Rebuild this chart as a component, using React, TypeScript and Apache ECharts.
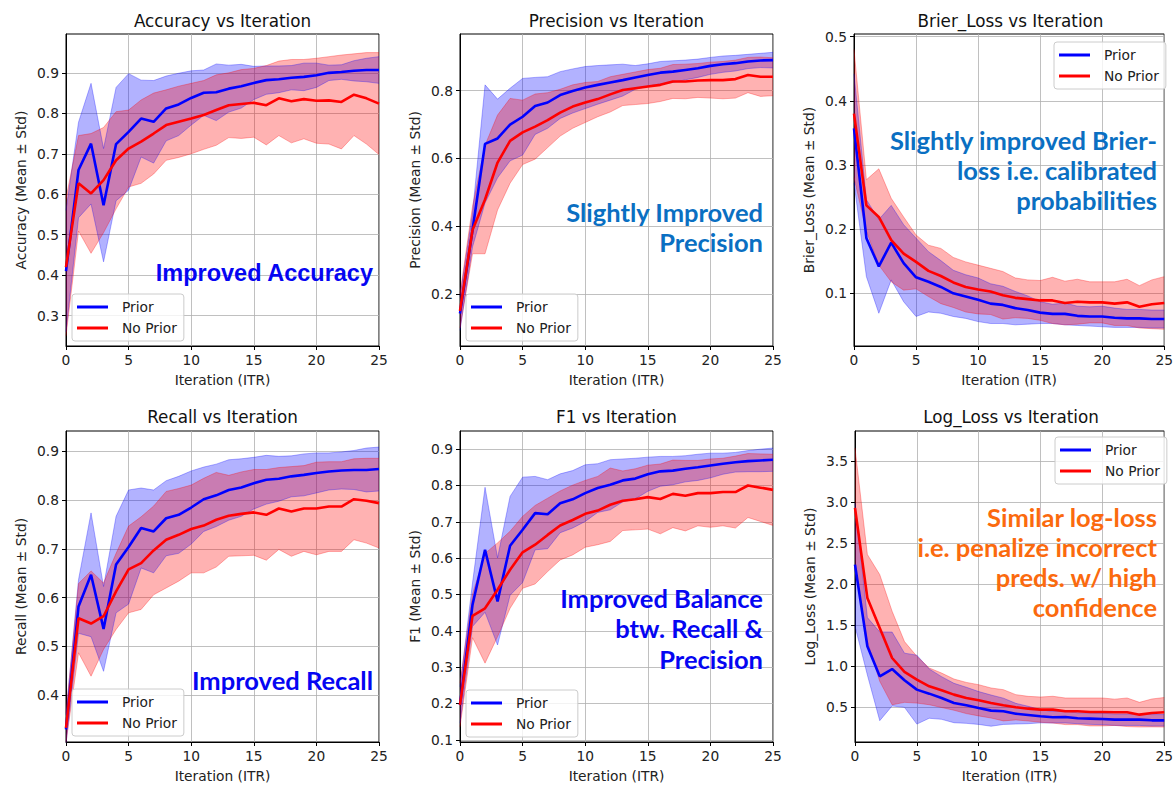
import React, { useEffect, useRef } from "react";
import * as echarts from "echarts";

// ---------- data ----------
const iterations = ["0","1","2","3","4","5","6","7","8","9","10","11","12","13","14","15","16","17","18","19","20","21","22","23","24","25"];

const accPriorMean = [0.41,0.66,0.725,0.573,0.724,0.754,0.787,0.779,0.812,0.822,0.838,0.851,0.852,0.861,0.867,0.875,0.882,0.884,0.888,0.89,0.894,0.9,0.902,0.905,0.907,0.907];
const accPriorStd = [0.15,0.118,0.149,0.14,0.14,0.144,0.095,0.102,0.08,0.077,0.067,0.056,0.07,0.058,0.054,0.041,0.035,0.033,0.03,0.034,0.03,0.019,0.018,0.025,0.029,0.033];
const accNoMean = [0.42,0.627,0.602,0.635,0.684,0.713,0.73,0.75,0.771,0.779,0.787,0.796,0.808,0.82,0.823,0.826,0.82,0.837,0.83,0.835,0.831,0.832,0.828,0.846,0.837,0.824];
const accNoStd = [0.17,0.118,0.148,0.13,0.12,0.095,0.103,0.1,0.087,0.088,0.087,0.085,0.087,0.08,0.085,0.085,0.098,0.092,0.103,0.098,0.105,0.108,0.116,0.101,0.113,0.126];

const precPriorMean = [0.143,0.389,0.643,0.659,0.7,0.723,0.755,0.765,0.787,0.799,0.809,0.817,0.824,0.831,0.839,0.846,0.853,0.856,0.861,0.866,0.873,0.878,0.881,0.886,0.889,0.89];
const precPriorStd = [0.05,0.05,0.174,0.116,0.107,0.113,0.084,0.076,0.069,0.065,0.062,0.057,0.052,0.047,0.035,0.033,0.033,0.032,0.029,0.027,0.025,0.024,0.023,0.021,0.021,0.023];
const precNoMean = [0.15,0.389,0.479,0.588,0.652,0.677,0.694,0.713,0.735,0.753,0.765,0.775,0.789,0.802,0.807,0.812,0.817,0.827,0.827,0.83,0.831,0.831,0.834,0.846,0.841,0.841];
const precNoStd = [0.05,0.07,0.16,0.14,0.125,0.095,0.096,0.081,0.069,0.064,0.059,0.052,0.052,0.046,0.048,0.05,0.049,0.05,0.051,0.05,0.053,0.055,0.056,0.052,0.058,0.056];

const brierPriorMean = [0.357,0.186,0.142,0.179,0.147,0.125,0.118,0.11,0.1,0.095,0.09,0.084,0.082,0.077,0.074,0.07,0.068,0.068,0.065,0.064,0.064,0.062,0.061,0.061,0.06,0.06];
const brierPriorStd = [0.085,0.06,0.073,0.058,0.06,0.061,0.047,0.041,0.036,0.034,0.034,0.031,0.029,0.026,0.022,0.017,0.015,0.017,0.015,0.015,0.016,0.015,0.014,0.014,0.014,0.014];
const brierNoMean = [0.38,0.237,0.219,0.183,0.162,0.149,0.135,0.127,0.117,0.11,0.106,0.103,0.097,0.093,0.091,0.089,0.089,0.085,0.087,0.086,0.086,0.084,0.086,0.079,0.083,0.085];
const brierNoStd = [0.1,0.04,0.075,0.065,0.057,0.042,0.04,0.043,0.039,0.039,0.038,0.036,0.037,0.031,0.03,0.031,0.036,0.034,0.035,0.032,0.032,0.034,0.036,0.033,0.038,0.041];

const recPriorMean = [0.33,0.582,0.647,0.536,0.668,0.704,0.743,0.736,0.763,0.77,0.785,0.802,0.81,0.821,0.826,0.835,0.842,0.844,0.849,0.852,0.856,0.859,0.861,0.862,0.862,0.864];
const recPriorStd = [0.03,0.055,0.127,0.087,0.099,0.117,0.082,0.085,0.077,0.079,0.075,0.066,0.064,0.062,0.059,0.053,0.05,0.046,0.042,0.043,0.041,0.038,0.038,0.04,0.045,0.045];
const recNoMean = [0.333,0.558,0.547,0.562,0.613,0.658,0.671,0.697,0.719,0.729,0.741,0.748,0.76,0.768,0.772,0.775,0.77,0.783,0.777,0.783,0.783,0.787,0.787,0.802,0.799,0.794];
const recNoStd = [0.03,0.071,0.108,0.068,0.078,0.089,0.095,0.091,0.099,0.095,0.09,0.097,0.097,0.083,0.086,0.088,0.093,0.084,0.092,0.088,0.095,0.092,0.092,0.083,0.087,0.092];

const f1PriorMean = [0.196,0.472,0.623,0.481,0.634,0.678,0.724,0.721,0.751,0.762,0.779,0.793,0.802,0.814,0.819,0.831,0.839,0.841,0.846,0.85,0.855,0.86,0.864,0.867,0.869,0.871];
const f1PriorStd = [0.05,0.06,0.172,0.12,0.136,0.145,0.101,0.095,0.081,0.079,0.078,0.067,0.069,0.059,0.056,0.047,0.041,0.039,0.036,0.036,0.034,0.029,0.027,0.029,0.031,0.032];
const f1NoMean = [0.196,0.441,0.462,0.513,0.568,0.616,0.637,0.664,0.69,0.705,0.722,0.731,0.747,0.758,0.762,0.768,0.763,0.777,0.772,0.779,0.779,0.782,0.782,0.8,0.794,0.788];
const f1NoStd = [0.06,0.06,0.151,0.129,0.106,0.099,0.108,0.101,0.095,0.096,0.092,0.094,0.101,0.082,0.084,0.088,0.096,0.093,0.097,0.09,0.094,0.093,0.099,0.088,0.093,0.098];

const logPriorMean = [2.237,1.243,0.877,0.966,0.829,0.715,0.666,0.613,0.552,0.524,0.491,0.459,0.451,0.422,0.406,0.39,0.378,0.382,0.366,0.362,0.357,0.349,0.349,0.349,0.341,0.341];
const logPriorStd = [0.75,0.35,0.54,0.45,0.33,0.42,0.3,0.26,0.24,0.22,0.2,0.19,0.16,0.126,0.106,0.08,0.07,0.073,0.066,0.07,0.07,0.07,0.07,0.07,0.07,0.07];
const logNoMean = [2.928,1.831,1.466,1.1,0.93,0.836,0.755,0.707,0.654,0.613,0.585,0.552,0.524,0.5,0.483,0.471,0.471,0.451,0.451,0.443,0.443,0.439,0.439,0.41,0.431,0.439];
const logNoStd = [0.73,0.53,0.65,0.57,0.37,0.285,0.224,0.21,0.19,0.19,0.19,0.183,0.19,0.154,0.15,0.154,0.163,0.162,0.162,0.17,0.17,0.16,0.174,0.15,0.17,0.18];

const accTicks = [0.3,0.4,0.5,0.6,0.7,0.8,0.9];
const precTicks = [0.2,0.4,0.6,0.8];
const brierTicks = [0.1,0.2,0.3,0.4,0.5];
const recTicks = [0.4,0.5,0.6,0.7,0.8,0.9];
const f1Ticks = [0.1,0.2,0.3,0.4,0.5,0.6,0.7,0.8,0.9];
const logTicks = [0.5,1.0,1.5,2.0,2.5,3.0,3.5];

const seriesNames = ["Prior", "No Prior"];

const accNote = ["Improved Accuracy"];
const precNote = ["Slightly Improved", "Precision"];
const brierNote = ["Slightly improved Brier-", "loss i.e. calibrated", "probabilities"];
const recNote = ["Improved Recall"];
const f1Note = ["Improved Balance", "btw. Recall &", "Precision"];
const logNote = ["Similar log-loss", "i.e. penalize incorrect", "preds. w/ high", "confidence"];

// ---------- layout / style ----------
const FONT = "DejaVu Sans";
const NOTE_FONT = "Lato";
const NOTE_SIZE = 25.5;

const panels = [
  { title: "Accuracy vs Iteration", yName: "Accuracy (Mean ± Std)", min: 0.225, max: 0.996, ticks: accTicks,
    pm: accPriorMean, ps: accPriorStd, nm: accNoMean, ns: accNoStd,
    grid: { left: 66, top: 34, width: 313, height: 312 }, titleY: 20.7,
    legend: { left: 72, top: 294 },
    note: accNote, noteX: 373, noteY: [273], noteColor: "#0505f2", noteFont: "Liberation Sans", noteSize: 23.5 },
  { title: "Precision vs Iteration", yName: "Precision (Mean ± Std)", min: 0.047, max: 0.967, ticks: precTicks,
    pm: precPriorMean, ps: precPriorStd, nm: precNoMean, ns: precNoStd,
    grid: { left: 460, top: 34, width: 313, height: 312 }, titleY: 20.7,
    legend: { left: 466, top: 294 },
    note: precNote, noteX: 763, noteY: [211.5, 241.5], noteColor: "#0a6fc2", noteFont: NOTE_FONT, noteSize: NOTE_SIZE },
  { title: "Brier_Loss vs Iteration", yName: "Brier_Loss (Mean ± Std)", min: 0.018, max: 0.504, ticks: brierTicks,
    pm: brierPriorMean, ps: brierPriorStd, nm: brierNoMean, ns: brierNoStd,
    grid: { left: 854, top: 34, width: 313, height: 312 }, titleY: 20.7,
    legend: { left: 1054, top: 42 },
    note: brierNote, noteX: 1157, noteY: [140, 170, 200], noteColor: "#0a6fc2", noteFont: NOTE_FONT, noteSize: NOTE_SIZE },
  { title: "Recall vs Iteration", yName: "Recall (Mean ± Std)", min: 0.304, max: 0.942, ticks: recTicks,
    pm: recPriorMean, ps: recPriorStd, nm: recNoMean, ns: recNoStd,
    grid: { left: 66, top: 431, width: 313, height: 311 }, titleY: 417,
    legend: { left: 72, top: 689 },
    note: recNote, noteX: 373, noteY: [680], noteColor: "#0505f2", noteFont: NOTE_FONT, noteSize: NOTE_SIZE },
  { title: "F1 vs Iteration", yName: "F1 (Mean ± Std)", min: 0.094, max: 0.95, ticks: f1Ticks,
    pm: f1PriorMean, ps: f1PriorStd, nm: f1NoMean, ns: f1NoStd,
    grid: { left: 460, top: 431, width: 313, height: 311 }, titleY: 417,
    legend: { left: 466, top: 690 },
    note: f1Note, noteX: 763, noteY: [598, 628, 659], noteColor: "#0505f2", noteFont: NOTE_FONT, noteSize: NOTE_SIZE },
  { title: "Log_Loss vs Iteration", yName: "Log_Loss (Mean ± Std)", min: 0.077, max: 3.865, ticks: logTicks,
    pm: logPriorMean, ps: logPriorStd, nm: logNoMean, ns: logNoStd,
    grid: { left: 855, top: 431, width: 312, height: 311 }, titleY: 417,
    legend: { left: 1055, top: 437 },
    note: logNote, noteX: 1157, noteY: [517, 547, 577, 607], noteColor: "#fb6a0e", noteFont: NOTE_FONT, noteSize: NOTE_SIZE },
];

const BLUE = "#0000ff";
const RED = "#ff0000";
const BLUE_BAND = "rgba(0,0,255,0.3)";
const RED_BAND = "rgba(255,0,0,0.3)";

function buildOption() {
  const grid: any[] = [];
  const xAxis: any[] = [];
  const yAxis: any[] = [];
  const series: any[] = [];
  const legend: any[] = [];
  const graphic: any[] = [];

  panels.forEach((p, i) => {
    grid.push({ ...p.grid, show: true, borderColor: "#000", borderWidth: 1, backgroundColor: "transparent", containLabel: false });
    xAxis.push({
      type: "category", gridIndex: i, data: iterations, boundaryGap: false,
      name: "Iteration (ITR)", nameLocation: "middle", nameGap: 27,
      nameTextStyle: { fontFamily: FONT, fontSize: 13.8, color: "#222" },
      axisLine: { show: true, lineStyle: { color: "#000", width: 1 } },
      axisTick: { show: true, interval: 4, length: 4, lineStyle: { color: "#000" } },
      axisLabel: { interval: 4, margin: 7, fontFamily: FONT, fontSize: 13.8, color: "#222" },
      splitLine: { show: true, interval: 4, lineStyle: { color: "#b0b0b0", width: 0.8 } },
    });
    yAxis.push({
      type: "value", gridIndex: i, min: p.min, max: p.max,
      name: p.yName, nameLocation: "middle", nameGap: 38,
      nameTextStyle: { fontFamily: FONT, fontSize: 13.8, color: "#222" },
      axisLine: { show: true, lineStyle: { color: "#000", width: 1 } },
      axisTick: { show: true, length: 4, lineStyle: { color: "#000" }, customValues: p.ticks },
      axisLabel: { customValues: p.ticks, margin: 7, fontFamily: FONT, fontSize: 13.8, color: "#222",
        formatter: (v: number) => v.toFixed(1) },
      splitLine: { show: true, lineStyle: { color: "#b0b0b0", width: 0.8 } },
    });

    const bands = [
      { mean: p.pm, std: p.ps, color: BLUE_BAND, key: "p" },
      { mean: p.nm, std: p.ns, color: RED_BAND, key: "n" },
    ];
    bands.forEach((b) => {
      const lower = b.mean.map((m, k) => m - b.std[k]);
      const width = b.std.map((s) => 2 * s);
      series.push({
        type: "line", name: "band-low-" + b.key + i, xAxisIndex: i, yAxisIndex: i,
        stack: "band-" + b.key + i, data: lower, symbol: "none", silent: true, z: 1,
        lineStyle: { color: b.color, width: 1 },
      });
      series.push({
        type: "line", name: "band-w-" + b.key + i, xAxisIndex: i, yAxisIndex: i,
        stack: "band-" + b.key + i, data: width, symbol: "none", silent: true, z: 1,
        lineStyle: { color: b.color, width: 1 },
        areaStyle: { color: b.color, opacity: 1 },
      });
    });
    series.push({
      type: "line", name: seriesNames[0], xAxisIndex: i, yAxisIndex: i, data: p.pm,
      symbol: "none", z: 3, color: BLUE, lineStyle: { color: BLUE, width: 2.6 },
    });
    series.push({
      type: "line", name: seriesNames[1], xAxisIndex: i, yAxisIndex: i, data: p.nm,
      symbol: "none", z: 4, color: RED, lineStyle: { color: RED, width: 2.6 },
    });

    legend.push({
      data: seriesNames, left: p.legend.left, top: p.legend.top, orient: "vertical",
      icon: "rect", itemWidth: 31, itemHeight: 3, itemGap: 5, padding: [5, 7, 5, 5],
      backgroundColor: "rgba(255,255,255,0.8)", borderColor: "#cccccc", borderWidth: 1, borderRadius: 3,
      selectedMode: false,
      textStyle: { fontFamily: FONT, fontSize: 13.8, color: "#222", padding: [0, 0, 0, 9], lineHeight: 16 },
    });

    graphic.push({
      type: "text", x: p.grid.left + p.grid.width / 2, y: p.titleY,
      style: { text: p.title, fontFamily: FONT, fontSize: 16.8, fill: "#111", align: "center", verticalAlign: "middle" },
      z: 10,
    });
    p.note.forEach((line, k) => {
      graphic.push({
        type: "text", x: p.noteX, y: p.noteY[k],
        style: { text: line, fontFamily: p.noteFont, fontWeight: "bold", fontSize: p.noteSize, fill: p.noteColor,
          align: "right", verticalAlign: "middle" },
        z: 10,
      });
    });
  });

  return { animation: false, backgroundColor: "#ffffff", grid, xAxis, yAxis, series, legend, graphic };
}

export default function App() {
  const ref = useRef<HTMLDivElement>(null);
  useEffect(() => {
    if (!ref.current) return;
    const chart = echarts.init(ref.current, undefined, { renderer: "svg" });
    chart.setOption(buildOption() as any);
    return () => chart.dispose();
  }, []);
  return (
    <div
      ref={ref}
      style={{ position: "fixed", left: 0, top: 0, width: 1176, height: 787, background: "#fff" }}
    />
  );
}
